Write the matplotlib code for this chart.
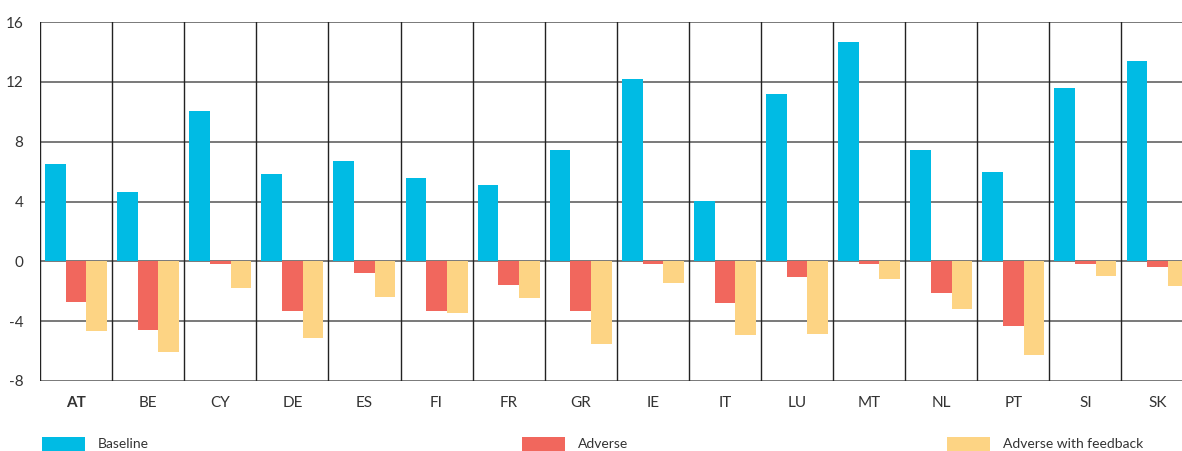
import matplotlib
matplotlib.use("Agg")
import matplotlib.pyplot as plt
from matplotlib.patches import Rectangle
import numpy as np

countries = ["AT", "BE", "CY", "DE", "ES", "FI", "FR", "GR", "IE", "IT", "LU", "MT", "NL", "PT", "SI", "SK"]
baseline = [6.49, 4.66, 10.05, 5.82, 6.69, 5.57, 5.12, 7.46, 12.17, 4.03, 11.17, 14.65, 7.42, 5.95, 11.61, 13.38]
adverse = [-2.74, -4.60, -0.20, -3.32, -0.78, -3.30, -1.56, -3.30, -0.20, -2.79, -1.03, -0.18, -2.14, -4.31, -0.18, -0.38]
adverse_fb = [-4.66, -6.05, -1.80, -5.10, -2.37, -3.48, -2.47, -5.51, -1.43, -4.95, -4.84, -1.18, -3.17, -6.25, -1.00, -1.63]
series_names = ["Baseline", "Adverse", "Adverse with feedback"]
colors = ["#00BBE4", "#F1675D", "#FDD484"]
yticks = [-8, -4, 0, 4, 8, 12, 16]

plt.rcParams['font.family'] = ['Lato', 'DejaVu Sans']

W, H = 1182, 451
fig = plt.figure(figsize=(W / 100, H / 100), dpi=100)
left = 40 / W
right_px = 40 + 16 * 72.1
ax = fig.add_axes([left, 1 - 381 / H, (right_px - 40) / W, (381 - 22) / H])

x = np.arange(len(countries))
bw = 0.287
for i, (vals, c) in enumerate(zip([baseline, adverse, adverse_fb], colors)):
    ax.bar(x + (i - 1) * bw, vals, width=bw, color=c, zorder=3, linewidth=0)

ax.set_xlim(-0.5, len(countries) - 0.5)
ax.set_ylim(-8, 16)
ax.set_yticks(yticks)
ax.set_yticklabels([str(t) for t in yticks])
ax.set_xticks(x)
ax.set_xticklabels(countries)
ax.tick_params(axis='both', length=0, labelsize=11, colors='#333333')
ax.tick_params(axis='y', pad=12)
ax.tick_params(axis='x', pad=11)
ax.get_xticklabels()[0].set_fontweight('bold')

for yv in yticks:
    ax.axhline(yv, color='#555555', lw=1.1, zorder=2)
for b in np.arange(-0.5, len(countries) + 0.5, 1.0):
    ax.axvline(b, color='#222222', lw=1.0, zorder=2)
for s in ax.spines.values():
    s.set_visible(False)

# legend
leg_x = [42, 522, 947]
for lx, name, c in zip(leg_x, series_names, colors):
    fig.add_artist(Rectangle((lx / W, 0), 43 / W, 14.5 / H, transform=fig.transFigure,
                             facecolor=c, edgecolor='none'))
    fig.text((lx + 56) / W, 1 - 444 / H, name, fontsize=10, color='#333333',
             va='center', ha='left')

fig.savefig("out.png", dpi=100)
